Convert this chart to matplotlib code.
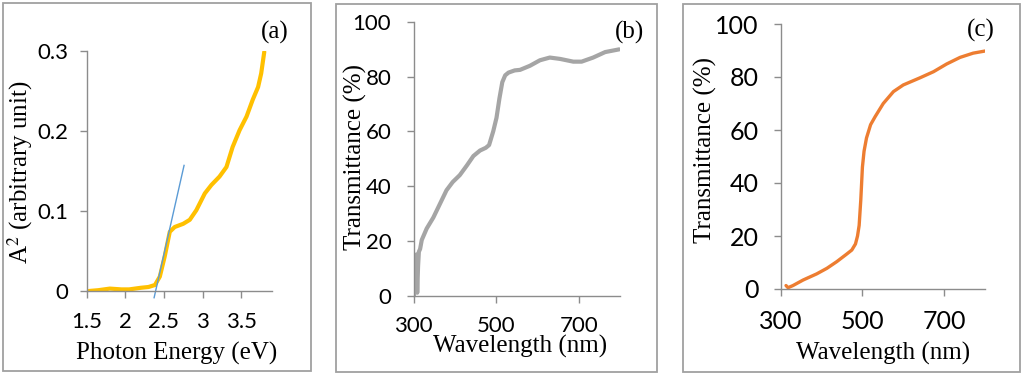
import matplotlib
matplotlib.use("Agg")
import matplotlib.pyplot as plt
from matplotlib.patches import Rectangle

# ---------------- data ----------------
energy_a = [1.53, 1.65, 1.8, 1.95, 2.05, 2.2, 2.3, 2.384, 2.447, 2.51, 2.576, 2.64, 2.75,
            2.835, 2.92, 3.03, 3.115, 3.22, 3.31, 3.39, 3.48, 3.57, 3.65, 3.72, 3.76, 3.80]
absorb_a = [0.0, 0.001, 0.003, 0.002, 0.002, 0.004, 0.005, 0.0075, 0.018, 0.043, 0.074, 0.080, 0.084,
            0.089, 0.101, 0.122, 0.1325, 0.143, 0.155, 0.18, 0.201, 0.218, 0.239, 0.255, 0.272, 0.299]
tangent_x = [2.373, 2.761]
tangent_y = [-0.0084, 0.157]
xticks_a = [1.5, 2, 2.5, 3, 3.5]
xticklabels_a = ["1.5", "2", "2.5", "3", "3.5"]
yticks_a = [0, 0.1, 0.2, 0.3]
yticklabels_a = ["0", "0.1", "0.2", "0.3"]

wl_b = [301, 303, 305, 307, 309, 311, 313, 316, 320, 332, 348, 364, 380, 395, 412, 429, 445, 461,
        475, 483, 493, 501, 508, 515, 522, 530, 545, 558, 582, 606, 630, 655, 687, 707, 735, 764, 798]
T_b = [0, 14, 3, 15, 1, 10.5, 16, 17, 20.3, 24.5, 28.5, 33.5, 38.5, 41.5, 44, 47.5, 51, 53,
       54, 55, 60, 65, 72, 78, 80.5, 81.5, 82.3, 82.5, 84, 86, 87, 86.5, 85.5, 85.5, 87, 89, 90]

wl_c = [313, 318, 330, 355, 388, 413, 437, 460, 474, 483, 488, 492, 496, 500, 504, 510, 520, 531,
        551, 576, 600, 641, 674, 706, 739, 771, 800]
T_c = [1.3, 0.5, 1.3, 3.4, 5.7, 7.8, 10.3, 13, 14.7, 17, 20, 24, 33.6, 46, 52, 57, 62, 65,
       70, 74.5, 77, 79.7, 82, 84.9, 87.4, 89, 89.8]

wl_ticks = [300, 500, 700]
wl_ticklabels = ["300", "500", "700"]
T_ticks = [0, 20, 40, 60, 80, 100]
T_ticklabels = ["0", "20", "40", "60", "80", "100"]

# ---------------- figure ----------------
SANS = ["Lato", "DejaVu Sans"]
SERIF = ["Liberation Serif", "DejaVu Serif"]
plt.rcParams["font.family"] = SANS

W, H = 1024, 375
fig = plt.figure(figsize=(W / 100, H / 100), dpi=100)
fig.patch.set_facecolor("white")

AXC = "#8C8C8C"
FRAMEC = "#A0A0A0"


def px_axes(l, r, t, b):
    return fig.add_axes([l / W, 1 - b / H, (r - l) / W, (b - t) / H])


def ftext(x, y, s, **kw):
    fig.text(x / W, 1 - y / H, s, ha="center", va="center", **kw)


def frame(l, r, t, b):
    fig.add_artist(Rectangle((l / W, 1 - b / H), (r - l) / W, (b - t) / H,
                             transform=fig.transFigure, fill=False,
                             edgecolor=FRAMEC, linewidth=1.3))


def style(ax, xt, xl, yt, yl, ypad, xpad, size):
    for s in ("top", "right"):
        ax.spines[s].set_visible(False)
    for s in ("left", "bottom"):
        ax.spines[s].set_color(AXC)
        ax.spines[s].set_linewidth(1.0)
    ax.tick_params(axis="both", color=AXC, length=5, width=1.0, direction="out",
                   labelcolor="black")
    ax.tick_params(axis="y", pad=ypad)
    ax.tick_params(axis="x", pad=xpad)
    ax.set_xticks(xt, xl, fontsize=size, family=SANS)
    ax.set_yticks(yt, yl, fontsize=size, family=SANS)
    ax.set_facecolor("none")


frame(3, 311, 3, 371)
frame(335.5, 656.5, 4, 372)
frame(682.7, 1020, 4, 372)

# ---- (a) ----
ax1 = px_axes(86.7, 272, 51, 291)
ax1.plot(energy_a, absorb_a, color="#FFC000", linewidth=3.0, solid_capstyle="round",
         solid_joinstyle="round")
ax1.plot(tangent_x, tangent_y, color="#5B9BD5", linewidth=1.0, clip_on=False)
ax1.set_xlim(1.5, 3.9)
ax1.set_ylim(0, 0.3)
style(ax1, xticks_a, xticklabels_a, yticks_a, yticklabels_a, 8, 10, 16)
ftext(176.7, 353, "Photon Energy (eV)", fontsize=18, family=SERIF)
ftext(20, 172, "A$^{2}$ (arbitrary unit)", fontsize=18, family=SERIF, rotation=90,
      math_fontfamily="stix")
ftext(275, 32, "(a)", fontsize=18, family=SERIF)

# ---- (b) ----
ax2 = px_axes(413.5, 620, 22, 295.5)
ax2.plot(wl_b, T_b, color="#A5A5A5", linewidth=3.0, solid_capstyle="round",
         solid_joinstyle="round")
ax2.set_xlim(300, 800)
ax2.set_ylim(0, 100)
style(ax2, wl_ticks, wl_ticklabels, T_ticks, T_ticklabels, 11, 10, 16)
ftext(520, 346, "Wavelength (nm)", fontsize=18, family=SERIF)
ftext(355, 157, "Transmittance (%)", fontsize=18, family=SERIF, rotation=90)
ftext(630, 32, "(b)", fontsize=18, family=SERIF)

# ---- (c) ----
ax3 = px_axes(780.7, 985, 24, 289)
ax3.plot(wl_c, T_c, color="#ED7D31", linewidth=2.4, solid_capstyle="round",
         solid_joinstyle="round")
ax3.set_xlim(300, 800)
ax3.set_ylim(0, 100)
style(ax3, wl_ticks, wl_ticklabels, T_ticks, T_ticklabels, 11, 10, 18)
ftext(883, 353, "Wavelength (nm)", fontsize=18, family=SERIF)
ftext(705, 150, "Transmittance (%)", fontsize=18, family=SERIF, rotation=90)
ftext(981, 30, "(c)", fontsize=18, family=SERIF)

fig.savefig("out.png", dpi=100, facecolor="white")
